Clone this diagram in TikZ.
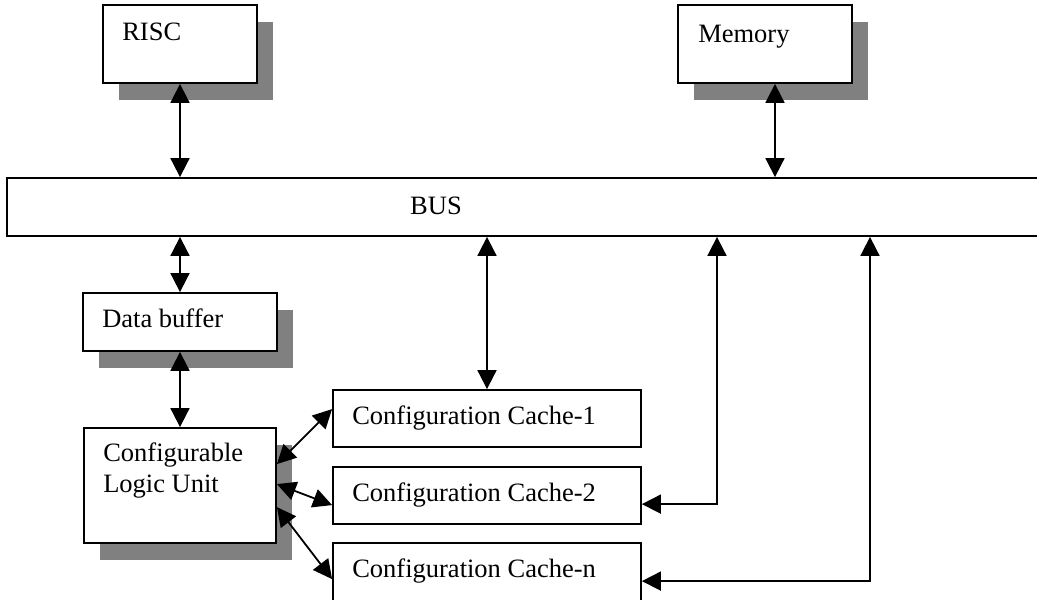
\documentclass[tikz,border=0pt]{standalone}
\usepackage{fontspec}
\setmainfont{Liberation Serif}
\usetikzlibrary{arrows.meta,calc,shadows}
\begin{document}
\begin{tikzpicture}[x=1pt,y=-1pt,
  box/.style={draw=black, line width=1.8pt, fill=white, inner sep=0pt, rectangle},
  shade/.style={drop shadow={shadow xshift=16pt, shadow yshift=-17pt, fill=gray, opacity=1}},
  lbl/.style={inner sep=0pt, anchor=base west, font=\fontsize{26.5}{31}\selectfont},
  tipA/.tip={Triangle[length=19pt,width=19pt]},
  link/.style={line width=1.8pt, tipA-tipA}
]
\useasboundingbox (0,0) rectangle (1037,600);
\fill[white] (0,0) rectangle (1037,600);
\clip (0,0) rectangle (1037,600);

% blocks
\node[box, shade, minimum width=154pt, minimum height=78pt] (risc) at (180,44) {};
\node[box, shade, minimum width=174pt, minimum height=78pt] (mem) at (765,44) {};
\node[box, minimum width=1040pt, minimum height=58pt] (bus) at (527,207) {};
\node[box, shade, minimum width=194pt, minimum height=58pt] (dbuf) at (180,322) {};
\node[box, shade, minimum width=192pt, minimum height=115pt] (clu) at (180,485.5) {};
\node[box, minimum width=308pt, minimum height=57pt] (cc1) at (487,418.5) {};
\node[box, minimum width=308pt, minimum height=57pt] (cc2) at (487,495.5) {};
\node[box, minimum width=308pt, minimum height=60pt] (ccn) at (487,573) {};

% labels
\node[lbl] (risc-t) at ($(risc.north west)+(20,36)$) {RISC};
\node[lbl] (mem-t) at ($(mem.north west)+(21,38)$) {Memory};
\node[lbl] (bus-t) at (410,214) {BUS};
\node[lbl] (dbuf-t) at ($(dbuf.north west)+(20,35)$) {Data buffer};
\node[lbl] (clu-t1) at ($(clu.north west)+(20,34)$) {Configurable};
\node[lbl] (clu-t2) at ($(clu.north west)+(20,65)$) {Logic Unit};
\node[lbl] (cc1-t) at ($(cc1.north west)+(20,35)$) {Configuration Cache-1};
\node[lbl] (cc2-t) at ($(cc2.north west)+(20,35)$) {Configuration Cache-2};
\node[lbl] (ccn-t) at ($(ccn.north west)+(20,35)$) {Configuration Cache-n};

% tap points on the bus
\coordinate (memx) at (775,0);
\coordinate (tap2) at (717,0);
\coordinate (tapn) at (870,0);
\coordinate (cc2in) at ($(cc2.north east)+(0,38)$);
\coordinate (ccnin) at ($(ccn.north east)+(0,39)$);

% bus connections
\draw[link] (risc.south) -- (bus.north -| risc.south);
\draw[link] (mem.south -| memx) -- (bus.north -| memx);
\draw[link] (bus.south -| dbuf.north) -- (dbuf.north);
\draw[link] (dbuf.south) -- (clu.north);
\draw[link] (bus.south -| cc1.north) -- (cc1.north);
\draw[link] (bus.south -| tap2) -- (cc2in -| tap2) -- (cc2in);
\draw[link] (bus.south -| tapn) -- (ccnin -| tapn) -- (ccnin);

% logic unit to caches
\draw[link] ($(clu.north east)+(0,37)$) -- ($(cc1.north west)+(0,20)$);
\draw[link] ($(clu.north east)+(0,57)$) -- ($(cc2.north west)+(0,39)$);
\draw[link] ($(clu.north east)+(0,80)$) -- ($(ccn.north west)+(0,37)$);
\end{tikzpicture}
\end{document}
